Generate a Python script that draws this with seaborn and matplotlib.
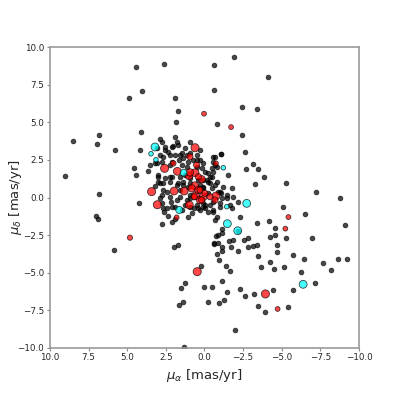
import numpy as np
import matplotlib
matplotlib.use("Agg")
import matplotlib.pyplot as plt
import seaborn as sns

sns.set_style("white")
plt.rcParams['font.family'] = ['DejaVu Sans']

# 固有運動 (mu_alpha, mu_delta) : 一般の星
field_ra = [4.45, 2.60, -0.61, 4.02, 4.87, 1.93, -0.59, 1.70, 1.83, -0.83, 4.11, 8.53, 6.85, 6.98, 5.77,
            4.19, 9.01, 4.56, 4.43, 6.85, -1.93, -4.11, -2.41, -3.38, -2.45, -2.62, -1.09, -0.66, -2.69,
            -3.16, -3.48, -1.50, -3.87, -3.29, -5.25, -7.22, -8.77, -1.76, -1.22, -1.05, -1.86, -1.44,
            -0.46, -0.25,
            -5.10, -6.53, -9.11, -1.65, -2.30, -3.38, -4.19, -4.58, -4.24, -4.56, -5.30, -6.98, -4.67,
            -4.69, -5.75, -6.46, -7.65, -8.62, -9.20, -8.19, -6.27, -5.15, -4.50, -4.24, -3.66, -3.44,
            -3.16, -3.42, -2.80, -2.54, -2.80, -2.17, -1.86, -1.61, -1.72, -1.15, -1.11, -0.79, -0.63,
            -0.89, -0.72, -0.85, -1.11, -1.11, -0.96, -1.37, -1.65, -1.15, -1.44, -1.24, -0.92, -0.25,
            0.05, -0.46, 0.23, -2.30, -2.60, -3.18, -4.43, -3.44, -3.92, -5.40, -5.75, -7.17, -1.99,
            -0.68, -0.79, -0.57, -1.00, 0.08, 0.29, -0.36, -0.03, -0.25, -0.61, -2.15,
            4.22, 2.73, 2.67, 2.17, 2.12, 1.15, 2.34, 2.62, 2.75, 2.10, 1.91, 1.05, 0.83, 0.68, 7.02,
            6.87, 5.86, 1.70, 1.95, 1.24, 1.50, 1.37, 1.67, 1.33, -0.57, -0.57,
            2.88, 2.77, 1.91, 1.80, 0.94, 2.02, 2.56, 2.34, 1.59, 1.16, 0.29, 2.88, 3.53, 3.64, 3.20,
            2.12, 1.63, 0.51, 0.08, -0.57, -0.68, 3.00, 3.00, 2.67, 2.23, 1.80, 1.37, 3.20, 2.45, 2.77,
            0.94, -0.14, -0.25, -0.57, 0.08, -0.46, -0.79, 1.05, 1.59, -0.89,
            3.09, 2.56, 2.12, 1.70, 1.26, 2.23, 1.91, 2.67, 1.48, 0.94, 0.51, 1.37, 1.05, 0.72, 0.29,
            3.09, 2.77, 2.23, 1.48, 1.15, 0.51, 0.18, 2.99, 2.56, 2.12, 1.59, 1.26, 0.94, 0.40, 2.88,
            2.23, 1.70, 1.37, 0.94, 0.29, 2.67, 1.59, 0.94, 2.23, 2.88, 1.80, 1.26, 1.91, 2.45, 0.51,
            0.08, 0.94, 1.48,
            -1.07, -0.57, -0.79, -0.46, -0.03, -0.36, 0.08, -0.36, 0.08, -0.68, -1.00, -0.25, -1.44,
            -1.11, -0.03, -1.00, 0.40, -2.19, -1.76]
field_dec = [8.65, 8.85, 8.80, 7.08, 6.63, 6.63, 7.14, 5.75, 5.02, 4.86, 4.37, 3.77, 4.15, 3.53, 3.18,
             3.14, 1.41, 1.96, 1.47, 0.25, 9.34, 8.01, 6.03, 5.86, 4.13, 3.04, 2.89, 2.71, 1.91,
             2.21, 1.91, 1.52, 1.38, 0.90, 0.98, 0.39, -0.05, 0.61, 0.72, 0.32, 0.05, -0.05,
             1.38, 1.05,
             -0.61, -1.12, -1.85, -0.50, -1.28, -1.69, -1.54, -2.03, -2.64, -2.49, -2.71, -2.67, -3.16,
             -3.60, -3.82, -4.07, -4.35, -4.09, -4.09, -4.84, -4.95, -4.60, -4.77, -4.31, -4.64, -3.89,
             -3.20, -3.14, -3.31, -2.80, -2.67, -3.55, -2.82, -2.89, -3.27, -3.27, -3.57, -3.75, -3.11,
             -3.00, -2.58, -2.49, -2.38, -2.09, -4.15, -4.53, -4.90, -5.53, -6.26, -6.79, -7.03, -6.94,
             -5.97, -5.97, -4.55, -6.10, -6.56, -6.39, -6.12, -7.19, -7.61, -7.25, -6.15, -5.68, -8.78,
             -1.50, -1.28, -0.94, -0.39, -0.39, -0.83, -0.50, -0.72, -0.94, -3.04, -2.21,
             -0.39, -0.39, -0.72, -0.32, -0.65, -0.17, -1.23, -0.94, -1.78, -1.65, -1.45, -1.28, -1.01,
             -0.72, -1.21, -1.43, -3.51, -3.14, -3.29, -5.70, -6.03, -6.92, -7.14, -9.91, -0.28, -0.83,
             3.89, 3.71, 4.00, 3.71, 3.71, 3.42, 3.34, 3.04, 2.82, 2.82, 3.16, 2.82, 2.16, 1.78, 2.31,
             2.38, 2.49, 2.49, 2.27, 2.71, 2.16, 1.38, 1.05, 0.94, 1.38, 0.83, 1.05, 0.76, 0.39, 0.17,
             -0.05, 1.16, 1.61, 1.72, 0.61, 0.61, 1.05, 0.72, 0.05, 0.39,
             3.27, 3.16, 3.38, 3.49, 3.27, 2.82, 2.82, 2.71, 2.94, 2.94, 2.82, 2.60, 2.38, 2.49, 2.49,
             2.27, 2.38, 2.16, 2.16, 2.05, 2.05, 1.94, 1.50, 1.28, 1.38, 1.38, 1.50, 1.28, 1.16, 0.94,
             1.05, 0.94, 0.83, 0.94, 0.83, 0.50, 0.50, 0.17, 0.05, -0.05, -0.17, -0.50, -0.61, -0.72,
             -0.50, -0.61, -0.61, -0.83,
             2.87, 2.38, 2.05, 1.94, 1.72, 1.38, 1.16, 0.94, 0.72, 0.83, 0.39, 0.28, 0.17,
             -0.05, -0.50, -0.61, -0.72, -0.28, -0.72]

# 赤: メンバー候補
red_ra = [0.61, 2.58, 3.42, 1.97, 1.31, 1.76, 1.00, 0.61, 0.63, 0.59, 0.08, -0.74, 3.05, 0.98,
          0.47, -3.94, 0.94, 0.18, 0.83, 0.40, 0.29,
          0.51, 0.40, 0.29, -0.03, -0.36, -0.68, 0.18, 0.94, 2.02, 0.66,
          0.03, -1.72, -0.74, -5.43, -5.23, -4.73, 4.82, 1.80]
red_dec = [3.31, 1.94, 0.39, 0.43, 0.43, 1.74, 1.45, 1.65, 0.78, 0.12, 0.05, 0.10, -0.48, -0.50,
           -4.93, -6.41, 1.67, 1.21, 0.61, 0.50, -0.17,
           2.16, 1.38, 0.50, 0.28, 0.05, -0.17, -0.17, 2.71, 2.27, 0.05,
           5.57, 4.68, 2.27, -1.30, -2.07, -7.41, -2.67, -1.32]
red_size = [34, 34, 34, 32, 32, 32, 32, 32, 32, 32, 32, 32, 34, 32,
            34, 34, 28, 28, 28, 28, 28,
            20, 20, 20, 20, 20, 20, 20, 20, 16, 20,
            12, 12, 12, 12, 12, 12, 14, 12]

# シアン
cyan_ra = [3.20, 1.35, 1.63, -2.73, -1.48, -2.15, -6.38, 3.46, 3.14, -1.22, -1.44]
cyan_dec = [3.36, 1.65, -0.83, -0.39, -1.74, -2.21, -5.77, 2.91, 2.51, 1.98, -0.61]
cyan_size = [32, 24, 26, 32, 32, 32, 32, 11, 11, 11, 11]

fig = plt.figure(figsize=(3.99, 3.99), dpi=100)
ax = fig.add_axes([0.125, 0.128, 0.775, 0.754])

sns.scatterplot(x=field_ra, y=field_dec, color="black", s=12, alpha=0.72,
                edgecolor="black", linewidth=0.5, ax=ax, legend=False)
sns.scatterplot(x=red_ra, y=red_dec, color="red", size=red_size, sizes=(12, 34),
                alpha=0.72, edgecolor="black", linewidth=0.6, ax=ax, legend=False)
sns.scatterplot(x=cyan_ra, y=cyan_dec, color="cyan", size=cyan_size, sizes=(11, 32),
                alpha=0.72, edgecolor="black", linewidth=0.6, ax=ax, legend=False)

ax.set_xlim(10, -10)
ax.set_ylim(-10, 10)
ax.set_xticks(np.arange(10, -10.1, -2.5))
ax.set_yticks(np.arange(-10, 10.1, 2.5))
ax.tick_params(axis="both", labelsize=6.3, direction="out", length=2.5, width=0.8,
               color="#888888", bottom=True, left=True, pad=1.5)
for sp in ax.spines.values():
    sp.set_color("#999999")
    sp.set_linewidth(1.2)

ax.set_xlabel(r"$\mu_{\alpha}$ [mas/yr]", fontsize=9.5, labelpad=3)
ax.set_ylabel(r"$\mu_{\delta}$ [mas/yr]", fontsize=9.5)
ax.yaxis.set_label_coords(-0.085, 0.5)

fig.savefig("out.png", dpi=100)
